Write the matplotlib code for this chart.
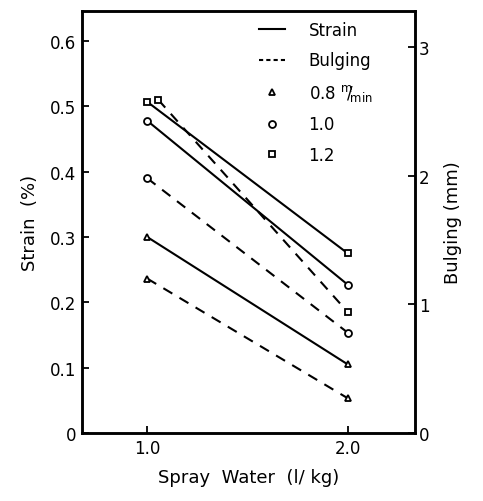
import matplotlib.pyplot as plt
from matplotlib.lines import Line2D

# Data
spray_x = [1.0, 2.0]
speed_labels = [r'0.8 $^{\mathrm{m}}\!\!/\!_{\mathrm{min}}$', '1.0', '1.2']
markers = ['^', 'o', 's']

strain_08 = [0.30, 0.105]
strain_10 = [0.478, 0.227]
strain_12 = [0.507, 0.275]

bulge_x_08 = [1.0, 2.0]
bulge_x_10 = [1.0, 2.0]
bulge_x_12 = [1.055, 2.0]
bulge_08 = [1.20, 0.27]
bulge_10 = [1.98, 0.78]
bulge_12 = [2.59, 0.94]

plt.rcParams['font.family'] = ['DejaVu Sans']
plt.rcParams['font.size'] = 12

fig = plt.figure(figsize=(4.83, 5.02), dpi=100)
ax = fig.add_axes([0.170, 0.1355, 0.689, 0.8405])
ax2 = ax.twinx()

mk = dict(markersize=5, markerfacecolor='white', markeredgecolor='black', markeredgewidth=1.3)
dash = (0, (5, 4))

for ys, m in zip([strain_08, strain_10, strain_12], markers):
    ax.plot(spray_x, ys, color='black', lw=1.5, marker=m, **mk)

for xs, ys, m in zip([bulge_x_08, bulge_x_10, bulge_x_12], [bulge_08, bulge_10, bulge_12], markers):
    ax2.plot(xs, ys, color='black', lw=1.5, linestyle=dash, marker=m, **mk)

ax.set_xlim(0.675, 2.335)
ax.set_ylim(0, 0.646)
ax2.set_ylim(0, 3.28)

ax.set_xticks([1.0, 2.0])
ax.set_xticklabels(['1.0', '2.0'])
ax.set_yticks([0, 0.1, 0.2, 0.3, 0.4, 0.5, 0.6])
ax.set_yticklabels(['0', '0.1', '0.2', '0.3', '0.4', '0.5', '0.6'])
ax2.set_yticks([0, 1, 2, 3])
ax2.set_yticklabels(['0', '1', '2', '3'])

ax.tick_params(direction='in', length=5, width=1.3, pad=4)
ax2.tick_params(direction='in', length=5, width=1.3, pad=3)
for a in (ax, ax2):
    for s in a.spines.values():
        s.set_linewidth(1.8)

ax.set_xlabel('Spray  Water  (l/ kg)', labelpad=8, fontsize=13)
ax.set_ylabel('Strain  (%)', labelpad=8, fontsize=13)
ax2.set_ylabel('Bulging (mm)', labelpad=10, fontsize=13)

handles = [
    Line2D([], [], color='black', lw=1.5),
    Line2D([], [], color='black', lw=1.5, linestyle=(0, (2, 1.5))),
]
labels = ['Strain', 'Bulging']
for m, lab in zip(markers, speed_labels):
    handles.append(Line2D([], [], color='black', lw=0, marker=m, **mk))
    labels.append(lab)

ax.legend(handles, labels, loc='upper left', bbox_to_anchor=(0.485, 1.012),
          frameon=False, handlelength=1.6, handletextpad=1.4,
          labelspacing=0.75, fontsize=12)

fig.savefig('out.png', dpi=100)
